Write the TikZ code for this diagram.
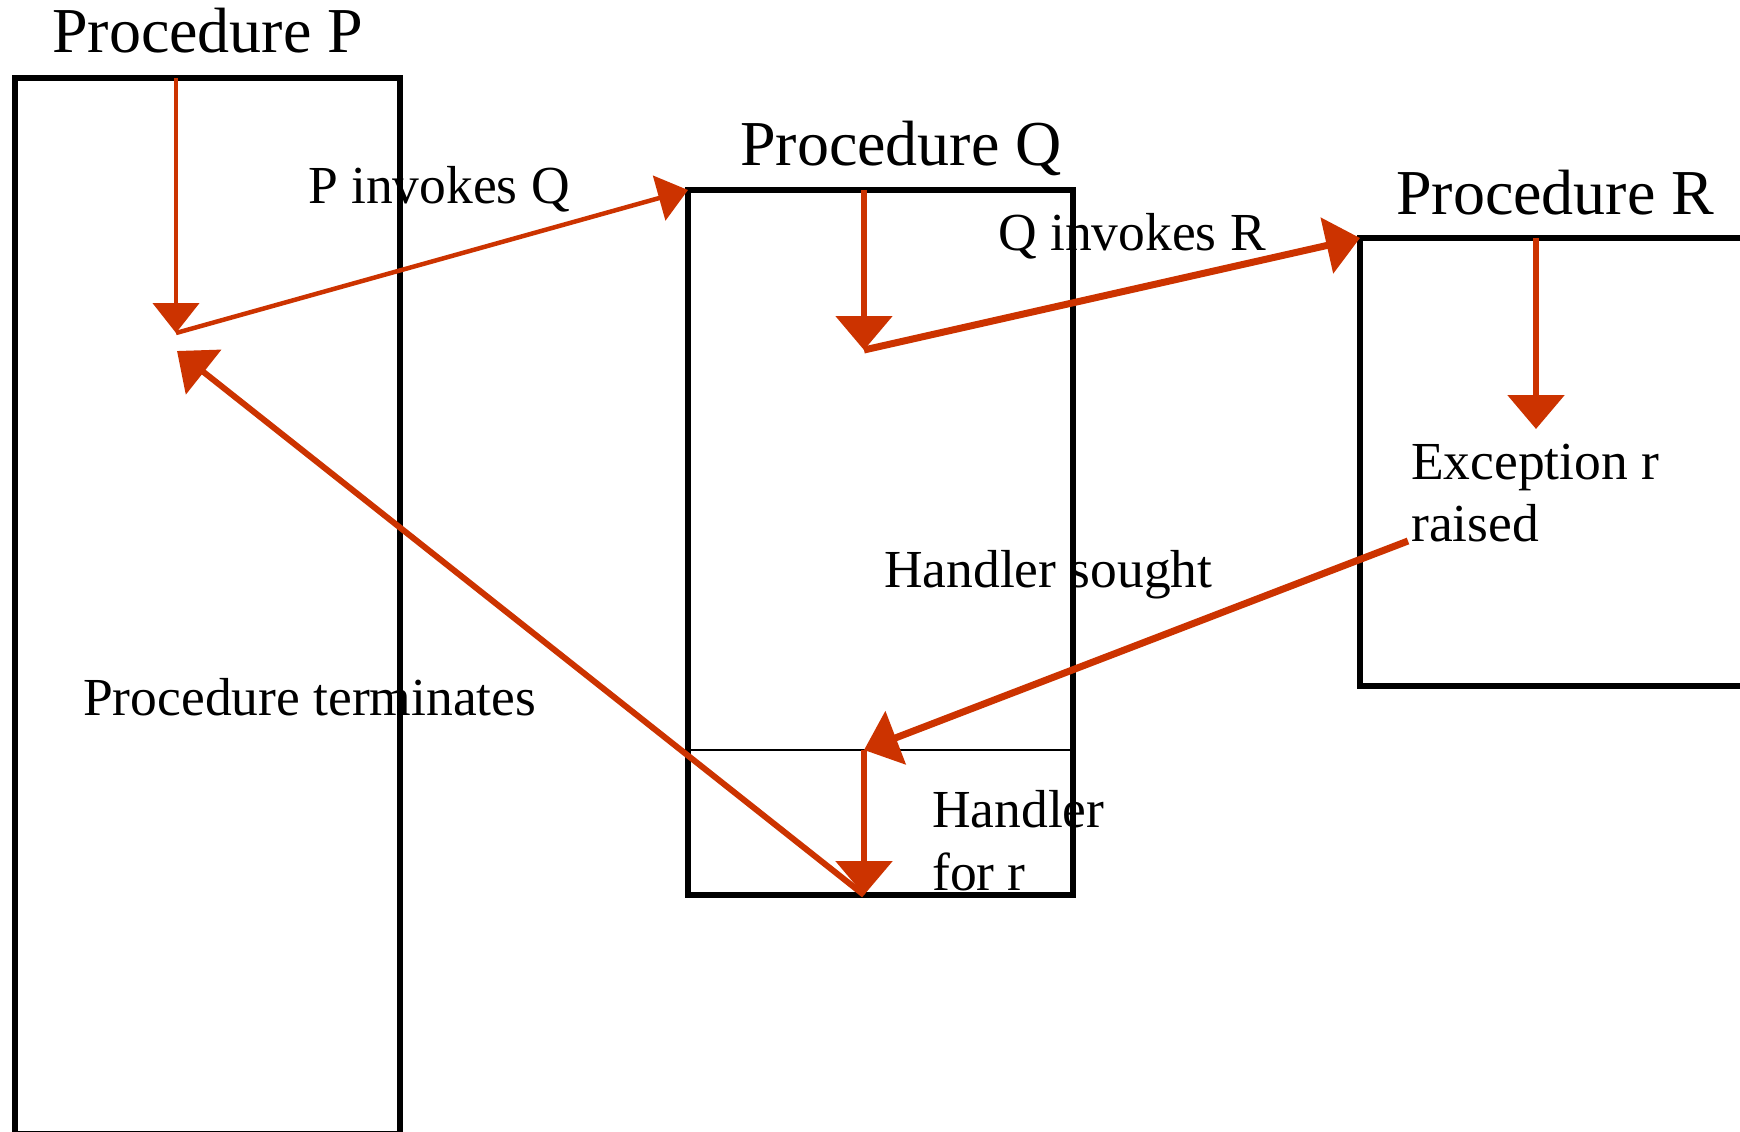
\documentclass[tikz,border=0pt]{standalone}
\usepackage{fontspec}
\setmainfont{Liberation Serif}
\usetikzlibrary{arrows.meta}
\definecolor{arr}{RGB}{204,51,0}
\begin{document}
\begin{tikzpicture}[x=1pt,y=-1pt,
  box/.style={draw=black,line width=5.5pt,rectangle,inner sep=0pt,outer sep=0pt,anchor=north west},
  lbl/.style={anchor=base west,inner sep=0pt,font=\fontsize{53.5}{62}\selectfont},
  ttl/.style={anchor=base west,inner sep=0pt,font=\fontsize{64}{76}\selectfont},
  thinarr/.style={draw=arr,line width=4.5pt,-{Triangle[length=30pt,width=46pt]}},
  thickarr/.style={draw=arr,line width=6.5pt,-{Triangle[length=34pt,width=56pt]}}]
\useasboundingbox (0,0) rectangle (1740,1132);
\clip (0,0) rectangle (1740,1132);
\fill[white] (0,0) rectangle (1740,1132);

% boxes
\node[box,minimum width=385pt,minimum height=1056pt] (P) at (15,78) {};
\node[box,minimum width=385pt,minimum height=705pt] (Q) at (688,190) {};
\node[box,minimum width=440pt,minimum height=448pt] (R) at (1360,238) {};
\coordinate (dL) at (688,750);
\coordinate (dR) at (1073,750);
\draw[line width=2.5pt] (dL) -- (dR);

% titles
\node[ttl] (tP) at (52,53) {Procedure P};
\node[ttl] (tQ) at (740,165) {Procedure Q};
\node[ttl] (tR) at (1396,214) {Procedure R};

% labels
\node[lbl] (lPQ) at (308,203) {P invokes Q};
\node[lbl] (lQR) at (998,250) {Q invokes R};
\node[lbl] (lEx1) at (1411,479) {Exception r};
\node[lbl] (lEx2) at (1411,541) {raised};
\node[lbl] (lHS) at (884,587) {Handler sought};
\node[lbl] (lPT) at (83,715) {Procedure terminates};
\node[lbl] (lH1) at (932,827) {Handler};
\node[lbl] (lH2) at (932,890) {for r};

% arrow end points
\coordinate (pA) at (176,78);
\coordinate (pB) at (176,333);
\coordinate (pC) at (177,351);
\coordinate (qA) at (864,190);
\coordinate (qB) at (864,350);
\coordinate (rA) at (1536,238);
\coordinate (rB) at (1536,429);
\coordinate (exS) at (1408,541);
\coordinate (hA) at (864,750);
\coordinate (hB) at (864,895);

% arrows
\draw[thinarr] (pA) -- (pB);
\draw[thinarr] (pB) -- (Q.north west);
\draw[thickarr,line width=5.5pt] (qA) -- (qB);
\draw[thickarr,line width=7pt] (qB) -- (R.north west);
\draw[thickarr,line width=6pt] (rA) -- (rB);
\draw[thickarr,line width=7pt] (exS) -- (hA);
\draw[thickarr,line width=6pt] (hA) -- (hB);
\draw[thickarr,line width=6pt] (hB) -- (pC);
\end{tikzpicture}
\end{document}
